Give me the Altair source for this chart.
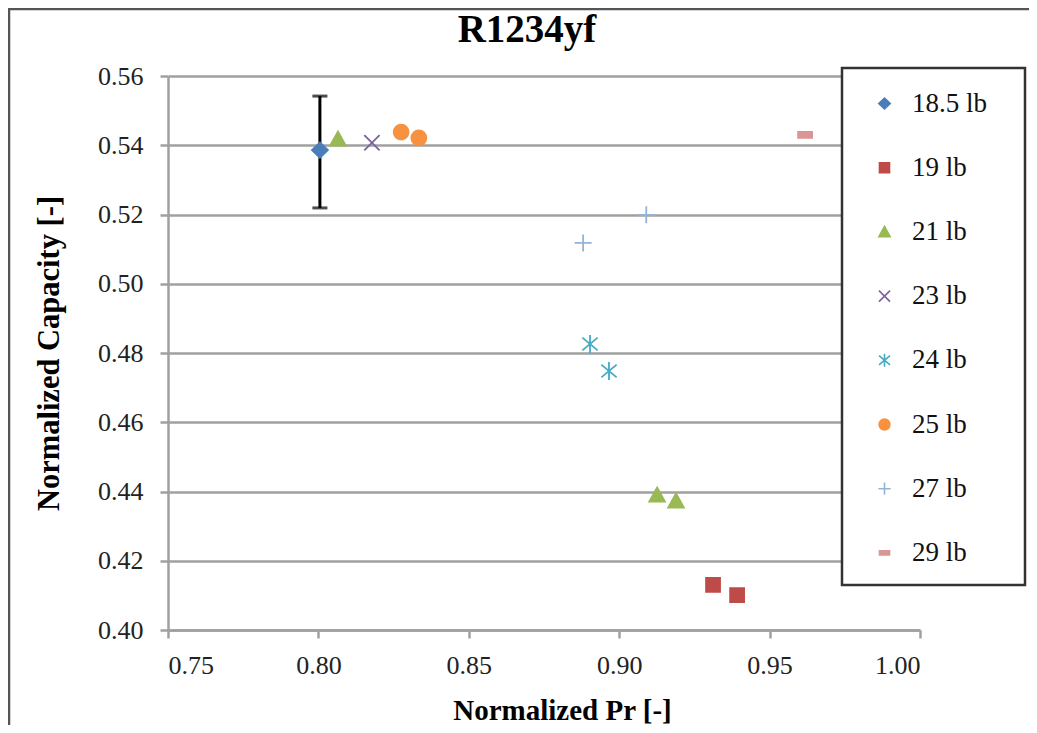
import altair as alt
import pandas as pd

# ---- data ----
series_names = ["18.5 lb", "19 lb", "21 lb", "23 lb", "24 lb", "25 lb", "27 lb", "29 lb"]
series_colors = ["#4A7EBB", "#BE4B48", "#98B954", "#7D60A0", "#46AAC5", "#F69240", "#95B3D7", "#D99694"]
series_fill = ["#4A7EBB", "#BE4B48", "#98B954", "transparent", "transparent", "#F69240", "transparent", "#D99694"]
series_shapes = [
    "M-0.94,0L0,-0.9L0.94,0L0,0.9Z",                      # diamond
    "M-0.82,-0.82H0.82V0.82H-0.82Z",                       # square
    "M0,-0.88L0.92,0.78L-0.92,0.78Z",                      # triangle
    "M-0.9,-0.9L0.9,0.9M-0.9,0.9L0.9,-0.9",                # x
    "M-0.9,-0.75L0.9,0.75M-0.9,0.75L0.9,-0.75M0,-1.05L0,1.05",  # asterisk
    "M0.88,0A0.88,0.88,0,1,1,-0.88,0A0.88,0.88,0,1,1,0.88,0Z",  # circle
    "M-1,0L1,0M0,-1L0,1",                                  # plus
    "M-0.82,-0.35H0.82V0.35H-0.82Z",                       # dash
]

point_series = ["18.5 lb", "19 lb", "19 lb", "21 lb", "21 lb", "21 lb", "23 lb",
                "24 lb", "24 lb", "25 lb", "25 lb", "27 lb", "27 lb", "29 lb"]
point_pr = [0.8005, 0.9312, 0.9392, 0.8065, 0.9126, 0.9189, 0.8178,
            0.8903, 0.8966, 0.8275, 0.8334, 0.8880, 0.9090, 0.9618]
point_capacity = [0.5386, 0.4130, 0.4101, 0.5418, 0.4390, 0.4373, 0.5407,
                  0.4826, 0.4748, 0.5438, 0.5421, 0.5118, 0.5199, 0.5430]

err_pr = [0.8005]
err_low = [0.5219]
err_high = [0.5542]

x_ticks = [0.75, 0.80, 0.85, 0.90, 0.95, 1.00]
y_ticks = [0.40, 0.42, 0.44, 0.46, 0.48, 0.50, 0.52, 0.54, 0.56]

FONT = "Liberation Serif"
GRID = "#A0A0A0"

df = pd.DataFrame({"series": point_series, "pr": point_pr, "cap": point_capacity})
err_df = pd.DataFrame({"pr": err_pr, "lo": err_low, "hi": err_high})

x_scale = alt.Scale(domain=[0.75, 1.0], nice=False, zero=False)
y_scale = alt.Scale(domain=[0.40, 0.56], nice=False, zero=False)

leg = alt.Legend(
    title=None, orient="none", legendX=703, legendY=14,
    labelFont=FONT, labelFontSize=27, labelColor="#111",
    rowPadding=36.2, labelOffset=14, padding=0,
    symbolSize=150, symbolStrokeWidth=1.6,
)

points = alt.Chart(df).mark_point(opacity=1, strokeWidth=1.8, size=289).encode(
    x=alt.X("pr:Q", scale=x_scale,
            axis=alt.Axis(values=x_ticks, format=".2f", grid=False, title="Normalized Pr [-]",
                          titleX=394, titleAlign="center")),
    y=alt.Y("cap:Q", scale=y_scale,
            axis=alt.Axis(values=y_ticks, format=".2f", grid=True, title="Normalized Capacity [-]")),
    shape=alt.Shape("series:N", scale=alt.Scale(domain=series_names, range=series_shapes), legend=leg),
    fill=alt.Fill("series:N", scale=alt.Scale(domain=series_names, range=series_fill), legend=leg),
    stroke=alt.Stroke("series:N", scale=alt.Scale(domain=series_names, range=series_colors), legend=leg),
)

err_rule = alt.Chart(err_df).mark_rule(color="black", strokeWidth=3).encode(
    x=alt.X("pr:Q", scale=x_scale), y=alt.Y("lo:Q", scale=y_scale), y2="hi:Q"
)
err_cap_lo = alt.Chart(err_df).mark_tick(color="black", thickness=3, size=15, orient="horizontal").encode(
    x=alt.X("pr:Q", scale=x_scale), y=alt.Y("lo:Q", scale=y_scale)
)
err_cap_hi = alt.Chart(err_df).mark_tick(color="black", thickness=3, size=15, orient="horizontal").encode(
    x=alt.X("pr:Q", scale=x_scale), y=alt.Y("hi:Q", scale=y_scale)
)

one = alt.InlineData(values=[{"k": 0}])
legend_box = alt.Chart(one).mark_rect(fill="white", stroke="#333", strokeWidth=2.5).encode(
    x=alt.value(674), x2=alt.value(857), y=alt.value(-8), y2=alt.value(509)
)
frame = alt.Chart(one).mark_rect(fill="transparent", stroke="#555", strokeWidth=2.5).encode(
    x=alt.value(-159), x2=alt.value(900), y=alt.value(-67), y2=alt.value(700)
)

chart = alt.layer(frame, err_rule, err_cap_lo, err_cap_hi, points, legend_box).properties(
    width=752, height=554,
    autosize=alt.AutoSizeParams(type="none"),
    padding={"left": 160, "top": 68, "right": 109, "bottom": 95},
    background="white",
    title=alt.Title("R1234yf", font=FONT, fontSize=39, fontWeight="bold", color="black",
                    anchor="middle", dx=-17, offset=-73, baseline="alphabetic", frame="group"),
).configure_view(strokeWidth=0).configure_axis(
    labelFont=FONT, labelFontSize=26, labelColor="#222",
    titleFont=FONT, titleFontSize=29, titleFontWeight="bold", titleColor="black",
    domainColor=GRID, domainWidth=2.5, tickColor=GRID, tickWidth=2.5, tickSize=8,
    gridColor=GRID, gridWidth=2.5,
).configure_axisX(labelPadding=14, titlePadding=18).configure_axisY(
    labelPadding=17, titlePadding=33, titleFontSize=30.5)

chart.save("out.html", embed_options={"renderer": "svg", "actions": False})
